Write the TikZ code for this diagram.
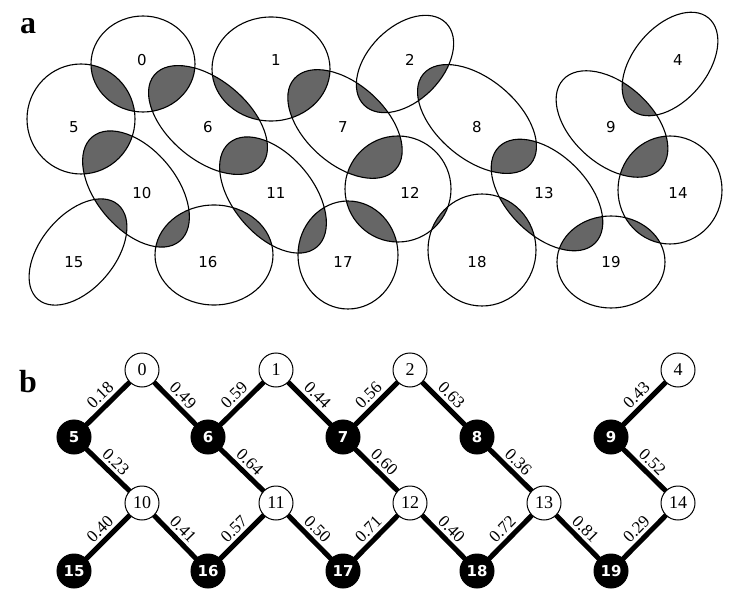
\documentclass[tikz,border=0pt]{standalone}
\usepackage{fontspec}
\setmainfont{Liberation Serif}
\newfontfamily\dejavu{DejaVu Sans}
\begin{document}
\begin{tikzpicture}[x=1pt,y=-1pt,
  ell/.style={draw=black,line width=1.1pt},
  lab/.style={font=\dejavu\fontsize{15}{15}\selectfont},
  wn/.style={circle,draw=black,fill=white,line width=1pt,minimum size=34pt,inner sep=0pt,font=\fontsize{18}{18}\selectfont},
  bn/.style={circle,draw=black,fill=black,text=white,line width=1pt,minimum size=34pt,inner sep=0pt,font=\dejavu\bfseries\fontsize{15}{15}\selectfont},
  ed/.style={line width=5pt},
  el/.style={midway,sloped,above,inner sep=3pt,font=\fontsize{17}{17}\selectfont}]
\useasboundingbox (0,0) rectangle (731,604);
\def\E#1{\csname ell#1\endcsname}
\expandafter\def\csname ell0\endcsname{(143,64) ellipse [x radius=52,y radius=48]}
\expandafter\def\csname ell1\endcsname{(271,69) ellipse [x radius=59,y radius=52]}
\expandafter\def\csname ell2\endcsname{[rotate around={45:(405,64)}] (405,64) ellipse [x radius=58,y radius=37]}
\expandafter\def\csname ell4\endcsname{[rotate around={50:(670,64)}] (670,64) ellipse [x radius=60,y radius=37]}
\expandafter\def\csname ell5\endcsname{(81,119) ellipse [x radius=54,y radius=55]}
\expandafter\def\csname ell6\endcsname{[rotate around={-40:(208,120)}] (208,120) ellipse [x radius=70,y radius=40]}
\expandafter\def\csname ell7\endcsname{[rotate around={-42:(345,124)}] (345,124) ellipse [x radius=68,y radius=40]}
\expandafter\def\csname ell8\endcsname{[rotate around={-40:(477,119)}] (477,119) ellipse [x radius=70,y radius=40]}
\expandafter\def\csname ell9\endcsname{[rotate around={-42:(612,124)}] (612,124) ellipse [x radius=66,y radius=40]}
\expandafter\def\csname ell10\endcsname{[rotate around={-50:(136,189)}] (136,189) ellipse [x radius=68,y radius=40]}
\expandafter\def\csname ell11\endcsname{[rotate around={-50:(273,195)}] (273,195) ellipse [x radius=68,y radius=40]}
\expandafter\def\csname ell12\endcsname{(398,189) ellipse [x radius=53,y radius=53]}
\expandafter\def\csname ell13\endcsname{[rotate around={-45:(547,195)}] (547,195) ellipse [x radius=68,y radius=40]}
\expandafter\def\csname ell14\endcsname{(670,190) ellipse [x radius=52,y radius=54]}
\expandafter\def\csname ell15\endcsname{[rotate around={50:(78,252)}] (78,252) ellipse [x radius=62,y radius=37]}
\expandafter\def\csname ell16\endcsname{(214,255) ellipse [x radius=59,y radius=50]}
\expandafter\def\csname ell17\endcsname{(348,255) ellipse [x radius=50,y radius=54]}
\expandafter\def\csname ell18\endcsname{(482,250) ellipse [x radius=54,y radius=56]}
\expandafter\def\csname ell19\endcsname{(611,262) ellipse [x radius=54,y radius=46]}
\foreach \a/\b in {0/5,0/6,1/6,1/7,2/7,2/8,4/9,5/10,6/11,7/12,8/13,9/14,10/15,10/16,11/16,11/17,12/17,12/18,13/18,13/19,14/19}{
  \begin{scope}
    \expandafter\clip\E\a;
    \expandafter\fill\expandafter[\expandafter f\expandafter i\expandafter l\expandafter l\expandafter=\expandafter b\expandafter l\expandafter a\expandafter c\expandafter k\expandafter!\expandafter6\expandafter0\expandafter]\E\b;
  \end{scope}}
\foreach \a in {0,1,2,4,5,6,7,8,9,10,11,12,13,14,15,16,17,18,19}{
  \expandafter\draw\expandafter[\expandafter e\expandafter l\expandafter l\expandafter]\E\a;}
\foreach \n/\x/\y in {0/142/60,1/276/60,2/410/60,4/678/60,5/74/127,6/208/127,7/343/127,8/477/127,9/611/127,10/142/193,11/276/193,12/410/193,13/544/193,14/678/193,15/74/262,16/208/262,17/343/262,18/477/262,19/611/262}
  \node[lab] (la\n) at (\x,\y) {\n};
\node[font=\bfseries\fontsize{32}{32}\selectfont] (pa) at (28,26) {a};
\node[font=\bfseries\fontsize{32}{32}\selectfont] (pb) at (28,382) {b};
\foreach \n/\x/\y in {0/142/370,1/276/370,2/410/370,4/678/370,10/142/503,11/276/503,12/410/503,13/544/503,14/678/503}
  \coordinate (c\n) at (\x,\y);
\foreach \n/\x/\y in {5/74/437,6/208/437,7/343/437,8/477/437,9/611/437,15/74/571,16/208/571,17/343/571,18/477/571,19/611/571}
  \coordinate (c\n) at (\x,\y);
\foreach \a/\b/\w in {5/0/0.18,0/6/0.49,6/1/0.59,1/7/0.44,7/2/0.56,2/8/0.63,9/4/0.43,5/10/0.23,6/11/0.64,7/12/0.60,8/13/0.36,9/14/0.52,15/10/0.40,10/16/0.41,16/11/0.57,11/17/0.50,17/12/0.71,12/18/0.40,18/13/0.72,13/19/0.81,19/14/0.29}
  \draw[ed] (c\a) -- node[el] {\w} (c\b);
\foreach \n in {0,1,2,4,10,11,12,13,14} \node[wn] (b\n) at (c\n) {\n};
\foreach \n in {5,6,7,8,9,15,16,17,18,19} \node[bn] (b\n) at (c\n) {\n};
\end{tikzpicture}
\end{document}
